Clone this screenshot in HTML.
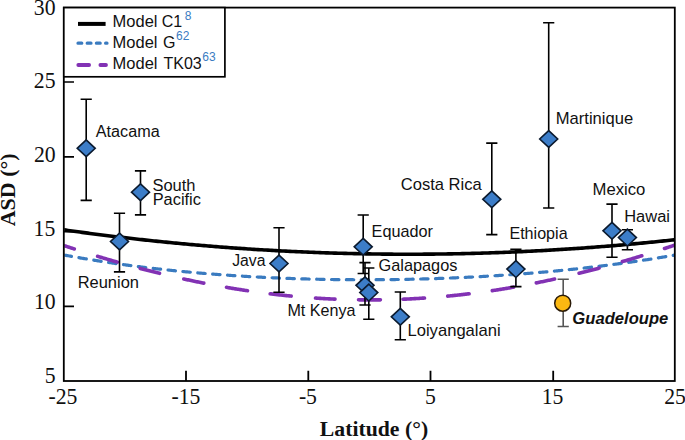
<!DOCTYPE html>
<html><head><meta charset="utf-8"><style>
html,body{margin:0;padding:0;background:#fff;width:685px;height:440px;overflow:hidden}
svg{display:block}
</style></head><body>
<svg width="685" height="440" viewBox="0 0 685 440">
<rect width="685" height="440" fill="#fff"/>
<clipPath id="pa"><rect x="64.3" y="8" width="610" height="372.5"/></clipPath>
<g clip-path="url(#pa)">
<path d="M64.06,255.00 L65.12,255.20 L66.18,255.40 L67.23,255.59 L68.29,255.78 L69.35,255.98 L70.40,256.17 L71.46,256.36 M78.92,257.68 L79.98,257.87 L81.03,258.05 L82.09,258.23 L83.15,258.41 L84.21,258.59 L85.26,258.77 L86.32,258.95 M93.78,260.17 L94.84,260.34 L95.89,260.51 L96.95,260.68 L98.01,260.85 L99.06,261.01 L100.12,261.18 L101.18,261.34 M108.64,262.48 L109.69,262.64 L110.75,262.79 L111.81,262.95 L112.86,263.10 L113.92,263.26 L114.98,263.41 L116.04,263.56 M123.49,264.61 L124.55,264.75 L125.61,264.90 L126.67,265.04 L127.72,265.18 L128.78,265.33 L129.84,265.47 L130.89,265.61 M138.35,266.57 L139.41,266.71 L140.47,266.84 L141.52,266.97 L142.58,267.10 L143.64,267.23 L144.69,267.36 L145.75,267.49 M153.21,268.37 L154.27,268.50 L155.32,268.62 L156.38,268.74 L157.44,268.86 L158.50,268.98 L159.55,269.10 L160.61,269.21 M168.07,270.02 L169.13,270.13 L170.18,270.25 L171.24,270.36 L172.30,270.47 L173.35,270.57 L174.41,270.68 L175.47,270.79 M182.93,271.52 L183.98,271.63 L185.04,271.73 L186.10,271.83 L187.15,271.93 L188.21,272.02 L189.27,272.12 L190.33,272.22 M197.78,272.88 L198.84,272.97 L199.90,273.07 L200.96,273.16 L202.01,273.24 L203.07,273.33 L204.13,273.42 L205.18,273.51 M212.64,274.11 L213.70,274.19 L214.76,274.27 L215.81,274.35 L216.87,274.43 L217.93,274.51 L218.98,274.59 L220.04,274.67 M227.50,275.20 L228.56,275.27 L229.61,275.34 L230.67,275.41 L231.73,275.49 L232.79,275.56 L233.84,275.62 L234.90,275.69 M242.36,276.16 L243.42,276.23 L244.47,276.29 L245.53,276.35 L246.59,276.41 L247.64,276.48 L248.70,276.54 L249.76,276.60 M257.22,277.01 L258.27,277.06 L259.33,277.12 L260.39,277.17 L261.44,277.22 L262.50,277.28 L263.56,277.33 L264.62,277.38 M272.07,277.73 L273.13,277.78 L274.19,277.82 L275.25,277.87 L276.30,277.91 L277.36,277.96 L278.42,278.00 L279.47,278.05 M286.93,278.34 L287.99,278.38 L289.05,278.42 L290.10,278.45 L291.16,278.49 L292.22,278.53 L293.27,278.56 L294.33,278.60 M301.79,278.84 L302.85,278.87 L303.90,278.90 L304.96,278.93 L306.02,278.96 L307.08,278.99 L308.13,279.02 L309.19,279.04 M316.65,279.22 L317.71,279.25 L318.76,279.27 L319.82,279.29 L320.88,279.32 L321.93,279.34 L322.99,279.36 L324.05,279.38 M331.51,279.51 L332.56,279.52 L333.62,279.54 L334.68,279.55 L335.73,279.57 L336.79,279.58 L337.85,279.59 L338.91,279.61 M346.36,279.68 L347.42,279.69 L348.48,279.70 L349.54,279.70 L350.59,279.71 L351.65,279.72 L352.71,279.72 L353.76,279.73 M361.22,279.75 L362.28,279.75 L363.34,279.75 L364.39,279.75 L365.45,279.75 L366.51,279.75 L367.56,279.75 L368.62,279.75 M376.08,279.72 L377.14,279.71 L378.19,279.71 L379.25,279.70 L380.31,279.69 L381.37,279.68 L382.42,279.68 L383.48,279.67 M390.94,279.59 L392.00,279.57 L393.05,279.56 L394.11,279.54 L395.17,279.53 L396.22,279.51 L397.28,279.50 L398.34,279.48 M405.80,279.35 L406.85,279.33 L407.91,279.31 L408.97,279.29 L410.02,279.26 L411.08,279.24 L412.14,279.22 L413.20,279.19 M420.65,279.01 L421.71,278.98 L422.77,278.95 L423.83,278.92 L424.88,278.90 L425.94,278.86 L427.00,278.83 L428.05,278.80 M435.51,278.57 L436.57,278.53 L437.63,278.50 L438.68,278.46 L439.74,278.42 L440.80,278.39 L441.85,278.35 L442.91,278.31 M450.37,278.02 L451.43,277.98 L452.48,277.94 L453.54,277.89 L454.60,277.85 L455.66,277.80 L456.71,277.76 L457.77,277.71 M465.23,277.37 L466.29,277.32 L467.34,277.27 L468.40,277.22 L469.46,277.16 L470.51,277.11 L471.57,277.06 L472.63,277.00 M480.09,276.61 L481.14,276.55 L482.20,276.49 L483.26,276.43 L484.31,276.37 L485.37,276.31 L486.43,276.25 L487.49,276.19 M494.94,275.74 L496.00,275.67 L497.06,275.61 L498.12,275.54 L499.17,275.47 L500.23,275.40 L501.29,275.33 L502.34,275.26 M509.80,274.76 L510.86,274.68 L511.92,274.61 L512.97,274.53 L514.03,274.46 L515.09,274.38 L516.14,274.30 L517.20,274.23 M524.66,273.66 L525.72,273.58 L526.77,273.49 L527.83,273.41 L528.89,273.33 L529.95,273.24 L531.00,273.15 L532.06,273.07 M539.52,272.44 L540.58,272.35 L541.63,272.26 L542.69,272.17 L543.75,272.07 L544.80,271.98 L545.86,271.89 L546.92,271.79 M554.38,271.10 L555.43,271.00 L556.49,270.90 L557.55,270.80 L558.60,270.70 L559.66,270.59 L560.72,270.49 L561.78,270.39 M569.23,269.63 L570.29,269.52 L571.35,269.41 L572.41,269.30 L573.46,269.19 L574.52,269.08 L575.58,268.97 L576.63,268.85 M584.09,268.03 L585.15,267.91 L586.21,267.79 L587.26,267.67 L588.32,267.55 L589.38,267.43 L590.43,267.31 L591.49,267.19 M598.95,266.30 L600.01,266.17 L601.06,266.04 L602.12,265.91 L603.18,265.77 L604.24,265.64 L605.29,265.51 L606.35,265.38 M613.81,264.41 L614.87,264.28 L615.92,264.13 L616.98,263.99 L618.04,263.85 L619.09,263.71 L620.15,263.57 L621.21,263.42 M628.67,262.38 L629.72,262.23 L630.78,262.08 L631.84,261.93 L632.89,261.78 L633.95,261.63 L635.01,261.47 L636.07,261.32 M643.52,260.20 L644.58,260.04 L645.64,259.88 L646.70,259.71 L647.75,259.55 L648.81,259.38 L649.87,259.22 L650.92,259.05 M658.38,257.85 L659.44,257.68 L660.50,257.50 L661.55,257.33 L662.61,257.15 L663.67,256.98 L664.72,256.80 L665.78,256.62 M673.24,255.34 L674.39,255.13 L675.54,254.93 L676.70,254.73 L677.85,254.52 L679.00,254.31 " stroke="#3a7bc0" stroke-width="3.2" fill="none" stroke-linecap="round" stroke-linejoin="round"/>
<path d="M60.00,244.29 L61.02,244.63 L62.04,244.97 L63.06,245.31 L64.09,245.65 L65.11,245.98 L66.13,246.32 L67.15,246.66 L68.17,246.99 L69.19,247.33 L70.21,247.66 L71.24,247.99 L72.26,248.32 L73.28,248.66 L74.30,248.99 M97.60,256.29 L98.64,256.60 L99.68,256.92 L100.73,257.23 L101.77,257.55 L102.81,257.86 L103.85,258.17 L104.89,258.48 L105.94,258.79 L106.98,259.10 L108.02,259.40 L109.06,259.71 L110.11,260.02 L111.15,260.32 L112.19,260.62 L113.23,260.92 L114.27,261.23 L115.32,261.53 L116.36,261.83 L117.40,262.12 M140.20,268.40 L141.22,268.66 L142.23,268.93 L143.25,269.20 L144.26,269.46 L145.28,269.72 L146.29,269.99 L147.31,270.25 L148.33,270.51 L149.34,270.77 L150.36,271.03 L151.37,271.29 L152.39,271.54 L153.41,271.80 L154.42,272.05 L155.44,272.31 L156.45,272.56 L157.47,272.81 L158.48,273.06 L159.50,273.31 M183.80,278.96 L184.85,279.19 L185.91,279.42 L186.96,279.65 L188.01,279.87 L189.06,280.10 L190.12,280.32 L191.17,280.55 L192.22,280.77 L193.27,280.99 L194.33,281.21 L195.38,281.43 L196.43,281.65 L197.48,281.86 L198.54,282.08 L199.59,282.29 L200.64,282.51 L201.69,282.72 L202.75,282.93 L203.80,283.14 M226.50,287.34 L227.50,287.52 L228.50,287.69 L229.50,287.86 L230.50,288.03 L231.50,288.19 L232.50,288.36 L233.50,288.53 L234.50,288.69 L235.50,288.85 L236.50,289.01 L237.50,289.18 L238.50,289.33 L239.50,289.49 L240.50,289.65 L241.50,289.81 L242.50,289.96 L243.50,290.11 L244.50,290.27 L245.50,290.42 L246.50,290.57 L247.50,290.72 M270.20,293.79 L271.20,293.91 L272.20,294.03 L273.20,294.15 L274.20,294.27 L275.20,294.38 L276.20,294.50 L277.20,294.61 L278.20,294.73 L279.20,294.84 L280.20,294.95 L281.20,295.06 L282.20,295.16 L283.20,295.27 L284.20,295.38 L285.20,295.48 L286.20,295.59 L287.20,295.69 L288.20,295.79 L289.20,295.89 L290.20,295.99 L291.20,296.08 M315.50,298.07 L316.53,298.14 L317.55,298.21 L318.58,298.28 L319.61,298.34 L320.63,298.40 L321.66,298.46 L322.68,298.52 L323.71,298.58 L324.74,298.64 L325.76,298.70 L326.79,298.75 L327.82,298.81 L328.84,298.86 L329.87,298.91 L330.89,298.96 L331.92,299.01 L332.95,299.06 L333.97,299.10 L335.00,299.15 M358.50,299.82 L359.54,299.83 L360.59,299.85 L361.63,299.86 L362.67,299.87 L363.71,299.88 L364.76,299.88 L365.80,299.89 L366.84,299.89 L367.89,299.90 L368.93,299.90 L369.97,299.90 L371.01,299.90 L372.06,299.90 L373.10,299.89 L374.14,299.89 L375.19,299.88 L376.23,299.87 L377.27,299.86 L378.31,299.85 L379.36,299.84 L380.40,299.83 M403.00,299.21 L404.02,299.17 L405.05,299.12 L406.07,299.08 L407.10,299.03 L408.12,298.98 L409.14,298.93 L410.17,298.88 L411.19,298.83 L412.21,298.78 L413.24,298.72 L414.26,298.67 L415.29,298.61 L416.31,298.55 L417.33,298.49 L418.36,298.43 L419.38,298.37 L420.40,298.31 L421.43,298.24 L422.45,298.17 L423.48,298.11 L424.50,298.04 M447.70,296.13 L448.72,296.03 L449.74,295.93 L450.76,295.83 L451.78,295.73 L452.80,295.62 L453.81,295.52 L454.83,295.41 L455.85,295.30 L456.87,295.19 L457.89,295.08 L458.91,294.97 L459.93,294.86 L460.95,294.75 L461.97,294.63 L462.99,294.51 L464.00,294.40 L465.02,294.28 L466.04,294.16 L467.06,294.03 L468.08,293.91 L469.10,293.79 M492.30,290.63 L493.32,290.47 L494.34,290.32 L495.36,290.16 L496.38,290.00 L497.40,289.85 L498.41,289.69 L499.43,289.52 L500.45,289.36 L501.47,289.20 L502.49,289.03 L503.51,288.87 L504.53,288.70 L505.55,288.53 L506.57,288.36 L507.59,288.19 L508.60,288.02 L509.62,287.85 L510.64,287.67 L511.66,287.50 L512.68,287.32 L513.70,287.14 M536.30,282.89 L537.32,282.69 L538.33,282.48 L539.35,282.28 L540.37,282.07 L541.38,281.86 L542.40,281.65 L543.42,281.43 L544.43,281.22 L545.45,281.01 L546.47,280.79 L547.48,280.58 L548.50,280.36 L549.52,280.14 L550.53,279.92 L551.55,279.70 L552.57,279.48 L553.58,279.25 L554.60,279.03 M579.10,273.28 L580.10,273.03 L581.10,272.79 L582.10,272.53 L583.10,272.28 L584.10,272.03 L585.10,271.78 L586.10,271.52 L587.10,271.27 L588.10,271.01 L589.10,270.75 L590.10,270.50 L591.10,270.24 L592.10,269.98 L593.10,269.71 L594.10,269.45 L595.10,269.19 L596.10,268.92 L597.10,268.66 L598.10,268.39 L599.10,268.12 M622.40,261.60 L623.42,261.30 L624.44,261.00 L625.46,260.70 L626.48,260.40 L627.51,260.10 L628.53,259.80 L629.55,259.49 L630.57,259.19 L631.59,258.88 L632.61,258.58 L633.63,258.27 L634.65,257.96 L635.67,257.65 L636.69,257.34 L637.72,257.03 L638.74,256.72 L639.76,256.40 L640.78,256.09 L641.80,255.77 M664.50,248.52 L665.54,248.17 L666.57,247.83 L667.61,247.49 L668.64,247.14 L669.68,246.80 L670.71,246.45 L671.75,246.10 L672.79,245.76 L673.82,245.41 L674.86,245.06 L675.89,244.71 L676.93,244.35 L677.96,244.00 L679.00,243.65" stroke="#8232b4" stroke-width="3.6" fill="none" stroke-linecap="round" stroke-linejoin="round"/>
<path d="M60.0,229.30 L62.0,229.59 L64.0,229.87 L66.0,230.15 L68.0,230.43 L70.0,230.71 L72.0,230.99 L74.0,231.26 L76.0,231.54 L78.0,231.81 L80.0,232.08 L82.0,232.35 L84.0,232.62 L86.0,232.88 L88.0,233.15 L90.0,233.41 L92.0,233.67 L94.0,233.93 L96.0,234.19 L98.0,234.44 L100.0,234.70 L102.0,234.95 L104.0,235.20 L106.0,235.45 L108.0,235.70 L110.0,235.94 L112.0,236.19 L114.0,236.43 L116.0,236.67 L118.0,236.91 L120.0,237.15 L122.0,237.38 L124.0,237.62 L126.0,237.85 L128.0,238.08 L130.0,238.31 L132.0,238.54 L134.0,238.77 L136.0,238.99 L138.0,239.21 L140.0,239.43 L142.0,239.65 L144.0,239.87 L146.0,240.09 L148.0,240.30 L150.0,240.52 L152.0,240.73 L154.0,240.94 L156.0,241.14 L158.0,241.35 L160.0,241.56 L162.0,241.76 L164.0,241.96 L166.0,242.16 L168.0,242.36 L170.0,242.56 L172.0,242.75 L174.0,242.94 L176.0,243.14 L178.0,243.33 L180.0,243.51 L182.0,243.70 L184.0,243.89 L186.0,244.07 L188.0,244.25 L190.0,244.43 L192.0,244.61 L194.0,244.79 L196.0,244.96 L198.0,245.13 L200.0,245.31 L202.0,245.48 L204.0,245.65 L206.0,245.81 L208.0,245.98 L210.0,246.14 L212.0,246.30 L214.0,246.46 L216.0,246.62 L218.0,246.78 L220.0,246.94 L222.0,247.09 L224.0,247.24 L226.0,247.39 L228.0,247.54 L230.0,247.69 L232.0,247.83 L234.0,247.98 L236.0,248.12 L238.0,248.26 L240.0,248.40 L242.0,248.54 L244.0,248.67 L246.0,248.81 L248.0,248.94 L250.0,249.07 L252.0,249.20 L254.0,249.33 L256.0,249.45 L258.0,249.58 L260.0,249.70 L262.0,249.82 L264.0,249.94 L266.0,250.06 L268.0,250.17 L270.0,250.29 L272.0,250.40 L274.0,250.51 L276.0,250.62 L278.0,250.73 L280.0,250.84 L282.0,250.94 L284.0,251.04 L286.0,251.14 L288.0,251.24 L290.0,251.34 L292.0,251.44 L294.0,251.53 L296.0,251.63 L298.0,251.72 L300.0,251.81 L302.0,251.90 L304.0,251.98 L306.0,252.07 L308.0,252.15 L310.0,252.23 L312.0,252.31 L314.0,252.39 L316.0,252.47 L318.0,252.54 L320.0,252.62 L322.0,252.69 L324.0,252.76 L326.0,252.83 L328.0,252.89 L330.0,252.96 L332.0,253.02 L334.0,253.08 L336.0,253.14 L338.0,253.20 L340.0,253.26 L342.0,253.31 L344.0,253.37 L346.0,253.42 L348.0,253.47 L350.0,253.52 L352.0,253.57 L354.0,253.61 L356.0,253.66 L358.0,253.70 L360.0,253.74 L362.0,253.78 L364.0,253.82 L366.0,253.85 L368.0,253.89 L370.0,253.92 L372.0,253.95 L374.0,253.98 L376.0,254.01 L378.0,254.03 L380.0,254.06 L382.0,254.08 L384.0,254.10 L386.0,254.12 L388.0,254.14 L390.0,254.15 L392.0,254.17 L394.0,254.18 L396.0,254.19 L398.0,254.20 L400.0,254.21 L402.0,254.21 L404.0,254.22 L406.0,254.22 L408.0,254.22 L410.0,254.22 L412.0,254.22 L414.0,254.22 L416.0,254.21 L418.0,254.20 L420.0,254.20 L422.0,254.19 L424.0,254.17 L426.0,254.16 L428.0,254.15 L430.0,254.13 L432.0,254.11 L434.0,254.09 L436.0,254.07 L438.0,254.05 L440.0,254.02 L442.0,253.99 L444.0,253.97 L446.0,253.94 L448.0,253.91 L450.0,253.87 L452.0,253.84 L454.0,253.80 L456.0,253.76 L458.0,253.72 L460.0,253.68 L462.0,253.64 L464.0,253.60 L466.0,253.55 L468.0,253.50 L470.0,253.45 L472.0,253.40 L474.0,253.35 L476.0,253.29 L478.0,253.24 L480.0,253.18 L482.0,253.12 L484.0,253.06 L486.0,253.00 L488.0,252.93 L490.0,252.87 L492.0,252.80 L494.0,252.73 L496.0,252.66 L498.0,252.59 L500.0,252.52 L502.0,252.44 L504.0,252.36 L506.0,252.28 L508.0,252.20 L510.0,252.12 L512.0,252.04 L514.0,251.95 L516.0,251.87 L518.0,251.78 L520.0,251.69 L522.0,251.59 L524.0,251.50 L526.0,251.41 L528.0,251.31 L530.0,251.21 L532.0,251.11 L534.0,251.01 L536.0,250.91 L538.0,250.80 L540.0,250.69 L542.0,250.59 L544.0,250.48 L546.0,250.37 L548.0,250.25 L550.0,250.14 L552.0,250.02 L554.0,249.90 L556.0,249.78 L558.0,249.66 L560.0,249.54 L562.0,249.41 L564.0,249.29 L566.0,249.16 L568.0,249.03 L570.0,248.90 L572.0,248.77 L574.0,248.63 L576.0,248.50 L578.0,248.36 L580.0,248.22 L582.0,248.08 L584.0,247.94 L586.0,247.79 L588.0,247.65 L590.0,247.50 L592.0,247.35 L594.0,247.20 L596.0,247.05 L598.0,246.89 L600.0,246.74 L602.0,246.58 L604.0,246.42 L606.0,246.26 L608.0,246.10 L610.0,245.94 L612.0,245.77 L614.0,245.60 L616.0,245.44 L618.0,245.27 L620.0,245.09 L622.0,244.92 L624.0,244.75 L626.0,244.57 L628.0,244.39 L630.0,244.21 L632.0,244.03 L634.0,243.85 L636.0,243.66 L638.0,243.47 L640.0,243.29 L642.0,243.10 L644.0,242.91 L646.0,242.71 L648.0,242.52 L650.0,242.32 L652.0,242.12 L654.0,241.92 L656.0,241.72 L658.0,241.52 L660.0,241.32 L662.0,241.11 L664.0,240.90 L666.0,240.69 L668.0,240.48 L670.0,240.27 L672.0,240.06 L674.0,239.84 L676.0,239.62 L678.0,239.40" stroke="#000" stroke-width="3.6" fill="none"/>
</g>
<path d="M86.2,99.3 V200.4 M80.6,99.3 H91.8 M80.6,200.4 H91.8" stroke="#000" stroke-width="1.6" fill="none"/>
<path d="M140.5,170.9 V214.9 M134.9,170.9 H146.1 M134.9,214.9 H146.1" stroke="#000" stroke-width="1.6" fill="none"/>
<path d="M119.5,213.2 V271.9 M113.9,213.2 H125.1 M113.9,271.9 H125.1" stroke="#000" stroke-width="1.6" fill="none"/>
<path d="M279.0,227.8 V292.2 M273.4,227.8 H284.6 M273.4,292.2 H284.6" stroke="#000" stroke-width="1.6" fill="none"/>
<path d="M363.2,215.0 V273.5 M357.6,215.0 H368.8 M357.6,273.5 H368.8" stroke="#000" stroke-width="1.6" fill="none"/>
<path d="M365.0,262.6 V305.0 M359.4,262.6 H370.6 M359.4,305.0 H370.6" stroke="#000" stroke-width="1.6" fill="none"/>
<path d="M368.8,268.0 V319.3 M363.2,268.0 H374.4 M363.2,319.3 H374.4" stroke="#000" stroke-width="1.6" fill="none"/>
<path d="M400.3,292.0 V339.8 M394.7,292.0 H405.9 M394.7,339.8 H405.9" stroke="#000" stroke-width="1.6" fill="none"/>
<path d="M491.8,143.1 V234.6 M486.2,143.1 H497.4 M486.2,234.6 H497.4" stroke="#000" stroke-width="1.6" fill="none"/>
<path d="M515.9,249.3 V286.6 M510.3,249.3 H521.5 M510.3,286.6 H521.5" stroke="#000" stroke-width="1.6" fill="none"/>
<path d="M548.7,22.8 V208.0 M543.1,22.8 H554.3 M543.1,208.0 H554.3" stroke="#000" stroke-width="1.6" fill="none"/>
<path d="M612.0,204.1 V257.2 M606.4,204.1 H617.6 M606.4,257.2 H617.6" stroke="#000" stroke-width="1.6" fill="none"/>
<path d="M627.4,229.7 V249.8 M621.8,229.7 H633.0 M621.8,249.8 H633.0" stroke="#000" stroke-width="1.6" fill="none"/>
<path d="M86.2,139.9 L95.2,148.3 L86.2,156.7 L77.2,148.3 Z" fill="#3c7dc8" stroke="#0b1a2e" stroke-width="1.6"/>
<path d="M140.5,183.8 L149.5,192.2 L140.5,200.6 L131.5,192.2 Z" fill="#3c7dc8" stroke="#0b1a2e" stroke-width="1.6"/>
<path d="M119.5,233.1 L128.5,241.5 L119.5,249.9 L110.5,241.5 Z" fill="#3c7dc8" stroke="#0b1a2e" stroke-width="1.6"/>
<path d="M279.0,255.1 L288.0,263.5 L279.0,271.9 L270.0,263.5 Z" fill="#3c7dc8" stroke="#0b1a2e" stroke-width="1.6"/>
<path d="M363.2,238.4 L372.2,246.8 L363.2,255.2 L354.2,246.8 Z" fill="#3c7dc8" stroke="#0b1a2e" stroke-width="1.6"/>
<path d="M365.0,276.9 L374.0,285.3 L365.0,293.7 L356.0,285.3 Z" fill="#3c7dc8" stroke="#0b1a2e" stroke-width="1.6"/>
<path d="M368.8,284.2 L377.8,292.6 L368.8,301.0 L359.8,292.6 Z" fill="#3c7dc8" stroke="#0b1a2e" stroke-width="1.6"/>
<path d="M400.3,308.4 L409.3,316.8 L400.3,325.2 L391.3,316.8 Z" fill="#3c7dc8" stroke="#0b1a2e" stroke-width="1.6"/>
<path d="M491.8,190.9 L500.8,199.3 L491.8,207.7 L482.8,199.3 Z" fill="#3c7dc8" stroke="#0b1a2e" stroke-width="1.6"/>
<path d="M515.9,260.7 L524.9,269.1 L515.9,277.5 L506.9,269.1 Z" fill="#3c7dc8" stroke="#0b1a2e" stroke-width="1.6"/>
<path d="M548.7,130.6 L557.7,139.0 L548.7,147.4 L539.7,139.0 Z" fill="#3c7dc8" stroke="#0b1a2e" stroke-width="1.6"/>
<path d="M612.0,222.4 L621.0,230.8 L612.0,239.2 L603.0,230.8 Z" fill="#3c7dc8" stroke="#0b1a2e" stroke-width="1.6"/>
<path d="M627.4,229.2 L636.4,237.6 L627.4,246.0 L618.4,237.6 Z" fill="#3c7dc8" stroke="#0b1a2e" stroke-width="1.6"/>
<path d="M563.2,279.2 V326.5 M557.6,279.2 H568.8 M557.6,326.5 H568.8" stroke="#555" stroke-width="1.6" fill="none"/>
<circle cx="562.7" cy="303.2" r="8.0" fill="#fbb812" stroke="#2a1a08" stroke-width="1.5"/>
<rect x="63.8" y="7.6" width="611" height="373.4" fill="none" stroke="#000" stroke-width="1.8"/>
<path d="M63.8,82.0 H74 M63.8,156.9 H74 M63.8,231.6 H74 M63.8,306.4 H74" stroke="#000" stroke-width="1.7"/>
<path d="M186.0,381 V370.8 M308.3,381 V370.8 M430.5,381 V370.8 M553.2,381 V370.8" stroke="#000" stroke-width="1.8"/>
<rect x="63.8" y="7.6" width="161.1" height="69.2" fill="#fff" stroke="#000" stroke-width="1.7"/>
<path d="M78,23.9 H105.6" stroke="#000" stroke-width="4"/>
<path d="M78,43.2 H107" stroke="#3a7bc0" stroke-width="3.2" stroke-linecap="round" stroke-dasharray="3.8 5.4"/>
<path d="M78.3,65 H106" stroke="#8232b4" stroke-width="3.8" stroke-linecap="round" stroke-dasharray="10.8 11.3"/>
<text transform="translate(112.57,27.3) scale(1.031,1)" font-family="'Liberation Sans', sans-serif" font-size="16" fill="#111">Model</text>
<text transform="translate(112.57,48.0) scale(1.031,1)" font-family="'Liberation Sans', sans-serif" font-size="16" fill="#111">Model</text>
<text transform="translate(112.57,68.8) scale(1.031,1)" font-family="'Liberation Sans', sans-serif" font-size="16" fill="#111">Model</text>
<text transform="translate(161.8,27.3)" font-family="'Liberation Sans', sans-serif" font-size="16" fill="#111">C1</text>
<text transform="translate(162.95,48.0)" font-family="'Liberation Sans', sans-serif" font-size="16" fill="#111">G</text>
<text transform="translate(163.6,68.8) scale(0.9974,1)" font-family="'Liberation Sans', sans-serif" font-size="16" fill="#111">TK03</text>
<text transform="translate(184.65,19.6)" font-family="'Liberation Sans', sans-serif" font-size="12" fill="#3a7cc2">8</text>
<text transform="translate(176.05,39.8)" font-family="'Liberation Sans', sans-serif" font-size="12" fill="#3a7cc2">62</text>
<text transform="translate(202.3,61.0)" font-family="'Liberation Sans', sans-serif" font-size="12" fill="#3a7cc2">63</text>
<text transform="translate(33.85,15.2) scale(0.965,1)" font-family="'Liberation Serif', serif" font-size="22.5" fill="#111">30</text>
<text transform="translate(33.85,88.3) scale(0.965,1)" font-family="'Liberation Serif', serif" font-size="22.5" fill="#111">25</text>
<text transform="translate(33.95,161.8) scale(0.965,1)" font-family="'Liberation Serif', serif" font-size="22.5" fill="#111">20</text>
<text transform="translate(33.62,235.9) scale(0.965,1)" font-family="'Liberation Serif', serif" font-size="22.5" fill="#111">15</text>
<text transform="translate(33.92,309.4) scale(0.965,1)" font-family="'Liberation Serif', serif" font-size="22.5" fill="#111">10</text>
<text transform="translate(44.81,382.6) scale(0.965,1)" font-family="'Liberation Serif', serif" font-size="22.5" fill="#111">5</text>
<text transform="translate(48.52,404.0) scale(0.965,1)" font-family="'Liberation Serif', serif" font-size="22.5" fill="#111">-25</text>
<text transform="translate(171.43,404.0) scale(0.965,1)" font-family="'Liberation Serif', serif" font-size="22.5" fill="#111">-15</text>
<text transform="translate(298.88,404.0) scale(0.965,1)" font-family="'Liberation Serif', serif" font-size="22.5" fill="#111">-5</text>
<text transform="translate(425.01,404.0) scale(0.965,1)" font-family="'Liberation Serif', serif" font-size="22.5" fill="#111">5</text>
<text transform="translate(541.72,404.0) scale(0.965,1)" font-family="'Liberation Serif', serif" font-size="22.5" fill="#111">15</text>
<text transform="translate(664.25,404.0) scale(0.965,1)" font-family="'Liberation Serif', serif" font-size="22.5" fill="#111">25</text>
<text transform="translate(319.8,435.6) scale(0.989,1)" font-family="'Liberation Serif', serif" font-size="22" font-weight="bold" fill="#111">Latitude (°)</text>
<text transform="translate(15.2,226.3) rotate(-90)" font-family="'Liberation Serif', serif" font-size="22" font-weight="bold" fill="#111">ASD (°)</text>
<text transform="translate(95.8,137.3) scale(1.0127,1)" font-family="'Liberation Sans', sans-serif" font-size="16" fill="#111">Atacama</text>
<text transform="translate(152.47,190.6) scale(1.03,1)" font-family="'Liberation Sans', sans-serif" font-size="16" fill="#111">South</text>
<text transform="translate(152.68,205.0) scale(1.0239,1)" font-family="'Liberation Sans', sans-serif" font-size="16" fill="#111">Pacific</text>
<text transform="translate(77.67,288.4) scale(1.0293,1)" font-family="'Liberation Sans', sans-serif" font-size="16" fill="#111">Reunion</text>
<text transform="translate(232.2,265.5) scale(0.9853,1)" font-family="'Liberation Sans', sans-serif" font-size="16" fill="#111">Java</text>
<text transform="translate(371.59,237.0) scale(1.015,1)" font-family="'Liberation Sans', sans-serif" font-size="16" fill="#111">Equador</text>
<text transform="translate(378.48,270.6) scale(1.0211,1)" font-family="'Liberation Sans', sans-serif" font-size="16" fill="#111">Galapagos</text>
<text transform="translate(287.39,316.0) scale(1.0075,1)" font-family="'Liberation Sans', sans-serif" font-size="16" fill="#111">Mt Kenya</text>
<text transform="translate(407.46,335.9) scale(1.0386,1)" font-family="'Liberation Sans', sans-serif" font-size="16" fill="#111">Loiyangalani</text>
<text transform="translate(400.76,189.8) scale(1.0351,1)" font-family="'Liberation Sans', sans-serif" font-size="16" fill="#111">Costa Rica</text>
<text transform="translate(509.39,238.7) scale(1.007,1)" font-family="'Liberation Sans', sans-serif" font-size="16" fill="#111">Ethiopia</text>
<text transform="translate(555.76,124.4) scale(1.037,1)" font-family="'Liberation Sans', sans-serif" font-size="16" fill="#111">Martinique</text>
<text transform="translate(592.46,195.2) scale(1.0449,1)" font-family="'Liberation Sans', sans-serif" font-size="16" fill="#111">Mexico</text>
<text transform="translate(624.17,222.0) scale(1.0302,1)" font-family="'Liberation Sans', sans-serif" font-size="16" fill="#111">Hawai</text>
<text transform="translate(572.36,323.9) scale(1.0385,1)" font-family="'Liberation Sans', sans-serif" font-size="16" font-weight="bold" font-style="italic" fill="#111">Guadeloupe</text>
</svg>
</body></html>
